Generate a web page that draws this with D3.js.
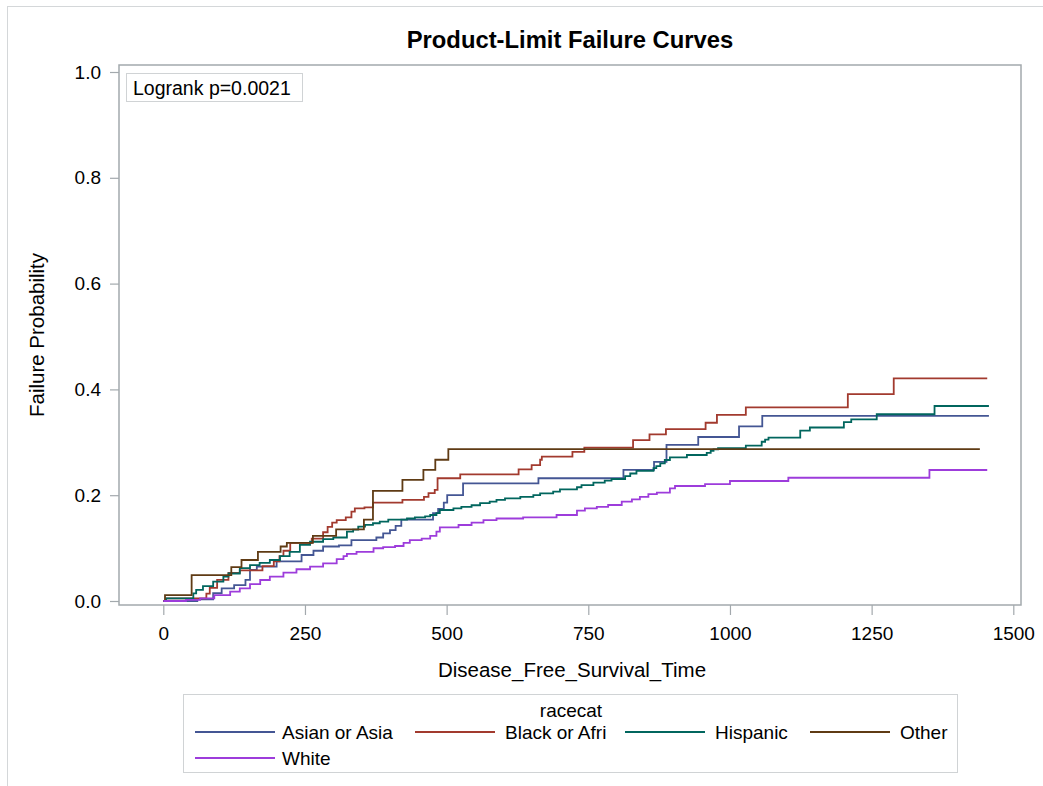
<!DOCTYPE html>
<html>
<head>
<meta charset="utf-8">
<script src="https://cdn.jsdelivr.net/npm/d3@7/dist/d3.min.js"></script>
<style>
  html, body { margin: 0; padding: 0; background: #fff; }
  svg { display: block; font-family: "Liberation Sans", Arial, sans-serif; }
</style>
</head>
<body>
<svg id="chart" width="1043" height="786"></svg>
<script>
// ---- Data (step points: [time, failure probability]) ----
const groups = ["Asian or Asia", "Black or Afri", "Hispanic", "Other", "White"];
const colors = ["#445694", "#A23A2E", "#01665E", "#5f3b14", "#9D3CDB"];

const asian = [[0,0],[60,0.003],[88,0.015],[103,0.024],[125,0.03],[145,0.04],[153,0.059],[165,0.065],[200,0.075],[244,0.087],[265,0.095],[282,0.103],[310,0.105],[332,0.115],[376,0.120],[388,0.128],[400,0.134],[410,0.142],[420,0.154],[476,0.166],[485,0.174],[495,0.186],[501,0.2],[529,0.2225],[662,0.232],[812,0.248],[866,0.263],[888,0.295],[944,0.31],[1016,0.33],[1057,0.35],[1457,0.35]];

const black = [[0,0],[5,0.005],[76,0.014],[82,0.025],[95,0.04],[115,0.053],[135,0.058],[175,0.066],[195,0.075],[205,0.085],[212,0.095],[224,0.11],[262,0.118],[282,0.13],[290,0.14],[298,0.148],[306,0.153],[322,0.158],[332,0.169],[338,0.175],[355,0.177],[370,0.186],[422,0.191],[460,0.197],[468,0.204],[479,0.21],[484,0.232],[524,0.2395],[627,0.249],[650,0.257],[665,0.267],[668,0.273],[722,0.282],[743,0.29],[829,0.304],[858,0.315],[887,0.325],[957,0.337],[977,0.352],[1028,0.366],[1208,0.391],[1289,0.421],[1454,0.421]];

const hispanic = [[0,0],[5,0.005],[53,0.0145],[58,0.021],[70,0.028],[88,0.0365],[106,0.046],[115,0.052],[135,0.062],[153,0.068],[170,0.072],[188,0.0775],[206,0.085],[223,0.093],[241,0.106],[259,0.112],[282,0.117],[300,0.12],[324,0.131],[335,0.135],[344,0.1405],[356,0.144],[370,0.147],[382,0.150],[397,0.154],[430,0.156],[444,0.158],[462,0.160],[471,0.1626],[482,0.166],[488,0.172],[512,0.175],[526,0.178],[544,0.181],[559,0.185],[576,0.188],[588,0.191],[603,0.194],[630,0.197],[653,0.2],[665,0.2036],[688,0.2066],[700,0.211],[730,0.215],[738,0.219],[759,0.2236],[779,0.2275],[791,0.2306],[815,0.236],[824,0.241],[835,0.246],[865,0.251],[870,0.255],[877,0.26],[885,0.2665],[894,0.2716],[924,0.276],[959,0.28],[966,0.284],[971,0.2868],[979,0.289],[1028,0.2936],[1056,0.301],[1062,0.305],[1068,0.309],[1124,0.322],[1141,0.328],[1201,0.338],[1214,0.3435],[1259,0.353],[1361,0.3686],[1457,0.3686]];

const other = [[0,0],[3,0.011],[50,0.049],[120,0.064],[138,0.0775],[167,0.093],[207,0.103],[218,0.110],[264,0.123],[305,0.1355],[354,0.154],[370,0.208],[422,0.229],[459,0.248],[480,0.267],[503,0.287],[1441,0.287]];

const white = [[0,0],[40,0.002],[65,0.005],[90,0.011],[118,0.0176],[135,0.024],[153,0.032],[171,0.0397],[188,0.046],[212,0.0535],[235,0.06],[259,0.065],[282,0.071],[306,0.079],[318,0.085],[324,0.089],[341,0.093],[371,0.0997],[388,0.102],[409,0.104],[424,0.110],[435,0.115],[456,0.118],[471,0.123],[482,0.131],[488,0.139],[521,0.1437],[544,0.148],[565,0.153],[588,0.156],[635,0.158],[694,0.1626],[730,0.1707],[744,0.175],[765,0.178],[785,0.1815],[809,0.1877],[827,0.192],[841,0.197],[856,0.202],[871,0.2047],[894,0.213],[903,0.2174],[956,0.221],[1000,0.2268],[1103,0.233],[1352,0.2476],[1454,0.2476]];

const seriesData = [asian, black, hispanic, other, white];
const xTicks = [0, 250, 500, 750, 1000, 1250, 1500];
const yTicks = [0, 0.2, 0.4, 0.6, 0.8, 1.0];

const titleText = "Product-Limit Failure Curves";
const xLabel = "Disease_Free_Survival_Time";
const yLabel = "Failure Probability";
const statText = "Logrank p=0.0021";
const legendTitle = "racecat";

// ---- Layout ----
const svg = d3.select("#chart");
const frame = { left: 119, right: 1021, top: 65, bottom: 605 };
const x = d3.scaleLinear().domain([0, 1500]).range([163.3, 1013.3]);
const y = d3.scaleLinear().domain([0, 1]).range([601, 72]);

// outer border
svg.append("rect").attr("x", 7.5).attr("y", 6.5).attr("width", 1045).attr("height", 790)
  .attr("fill", "none").attr("stroke", "#d4d7d9").attr("stroke-width", 1);

// title
svg.append("text").attr("x", 570).attr("y", 48).attr("text-anchor", "middle")
  .attr("font-size", 23.8).attr("font-weight", "bold").attr("fill", "#000").text(titleText);

// axes
const xAxis = d3.axisBottom(x).tickValues(xTicks).tickSize(10).tickPadding(12).tickFormat(d3.format("d"));
const gx = svg.append("g").attr("transform", `translate(0,${frame.bottom})`).call(xAxis);
gx.select(".domain").remove();
gx.selectAll(".tick line").attr("stroke", "#a3a9ad").attr("stroke-width", 1.2);
gx.selectAll(".tick text").attr("font-size", 19).attr("fill", "#000").attr("font-family", "Liberation Sans, Arial, sans-serif");

const yAxis = d3.axisLeft(y).tickValues(yTicks).tickSize(9).tickPadding(9).tickFormat(d3.format(".1f"));
const gy = svg.append("g").attr("transform", `translate(${frame.left},0)`).call(yAxis);
gy.select(".domain").remove();
gy.selectAll(".tick line").attr("stroke", "#a3a9ad").attr("stroke-width", 1.2);
gy.selectAll(".tick text").attr("font-size", 19).attr("fill", "#000").attr("font-family", "Liberation Sans, Arial, sans-serif");

// frame
svg.append("rect").attr("x", frame.left).attr("y", frame.top)
  .attr("width", frame.right - frame.left).attr("height", frame.bottom - frame.top)
  .attr("fill", "none").attr("stroke", "#a3a9ad").attr("stroke-width", 1.5);

// axis labels
svg.append("text").attr("x", 572).attr("y", 677).attr("text-anchor", "middle")
  .attr("font-size", 20.5).attr("fill", "#000").text(xLabel);
svg.append("text").attr("transform", "translate(44,335) rotate(-90)").attr("text-anchor", "middle")
  .attr("font-size", 20.5).attr("fill", "#000").text(yLabel);

// curves
const line = d3.line().x(d => x(d[0])).y(d => y(d[1])).curve(d3.curveStepAfter);
seriesData.forEach((s, i) => {
  svg.append("path").datum(s).attr("d", line)
    .attr("fill", "none").attr("stroke", colors[i]).attr("stroke-width", 1.8)
    .attr("stroke-linejoin", "miter");
});

// stat box
svg.append("rect").attr("x", 126.5).attr("y", 73.5).attr("width", 176).attr("height", 28)
  .attr("fill", "#fff").attr("stroke", "#d0d3d5").attr("stroke-width", 1);
svg.append("text").attr("x", 133).attr("y", 94.5).attr("font-size", 19.5).attr("fill", "#000").text(statText);

// legend
const lg = svg.append("g");
lg.append("rect").attr("x", 183.5).attr("y", 694.5).attr("width", 774).attr("height", 78)
  .attr("fill", "#fff").attr("stroke", "#d0d3d5").attr("stroke-width", 1);
lg.append("text").attr("x", 571).attr("y", 717).attr("text-anchor", "middle")
  .attr("font-size", 19).attr("fill", "#000").text(legendTitle);
const legendPos = [
  { lx: 195, tx: 282, y: 732 },
  { lx: 415, tx: 505, y: 732 },
  { lx: 625, tx: 715, y: 732 },
  { lx: 810, tx: 900, y: 732 },
  { lx: 195, tx: 282, y: 758 }
];
groups.forEach((g, i) => {
  const p = legendPos[i];
  lg.append("line").attr("x1", p.lx).attr("x2", p.lx + 80).attr("y1", p.y).attr("y2", p.y)
    .attr("stroke", colors[i]).attr("stroke-width", 1.8);
  lg.append("text").attr("x", p.tx).attr("y", p.y + 7).attr("font-size", 19).attr("fill", "#000").text(g);
});
</script>
</body>
</html>
